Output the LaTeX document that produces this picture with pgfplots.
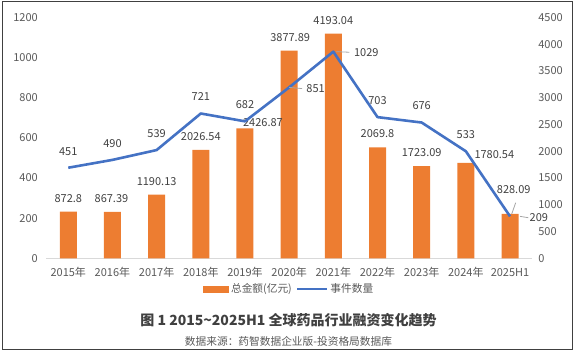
\documentclass[border=0pt]{standalone}
\usepackage{pgfplots}
\pgfplotsset{compat=1.18}
\usepackage{fontspec}
\setmainfont{Noto Sans CJK SC}
\setsansfont{Noto Sans CJK SC}
\definecolor{barc}{HTML}{ED7D31}
\definecolor{linec}{HTML}{4472C4}
\definecolor{tickc}{HTML}{595959}
\definecolor{labc}{HTML}{404040}
\definecolor{leadc}{HTML}{A6A6A6}
\definecolor{basec}{HTML}{D9D9D9}
\begin{document}
\begin{tikzpicture}[x=1pt,y=1pt]
\path[use as bounding box] (0,0) rectangle (577,354);
\draw[color=labc, line width=1.2pt] (2.5,4.5) rectangle (572.7,352.5);
% bars axis (right y axis)
\begin{axis}[
  at={(46.2pt,95.7pt)}, anchor=south west,
  scale only axis, width=485.9pt, height=241pt,
  xmin=-0.5, xmax=10.5, ymin=0, ymax=4500,
  clip=false,
  axis x line*=bottom, axis y line*=right,
  x axis line style={draw=basec, line width=0.8pt, -},
  y axis line style={draw=none},
  major tick length=0pt,
  xtick={0,...,10},
  xticklabels={2015年,2016年,2017年,2018年,2019年,2020年,2021年,2022年,2023年,2024年,2025H1},
  ytick={0,500,...,4500},
  /pgf/number format/assume math mode=true,
  /pgf/number format/.cd, 1000 sep={}, /pgfplots/.cd,
  ticklabel style={font=\fontsize{11}{12}\selectfont, text=tickc, inner sep=0pt},
  xticklabel style={anchor=base, yshift=-17.9pt},
  yticklabel style={anchor=base west, xshift=6pt, yshift=-4pt},
  legend style={at={(0.5,0)}, anchor=center, yshift=-30.7pt, draw=none, fill=none,
    font=\fontsize{10.7}{12}\selectfont, text=tickc, inner sep=0pt,
    /tikz/every even column/.append style={column sep=2pt}},
  legend columns=2,
  legend cell align=left,
]
\addplot[ybar, bar width=17pt, fill=barc, draw=none,
  nodes near coords, point meta=explicit symbolic,
  visualization depends on={value \thisrow{dx}\as\dx},
  visualization depends on={value \thisrow{dy}\as\dy},
  every node near coord/.append style={anchor=center, inner sep=0pt, xshift=\dx pt, yshift=\dy pt,
    font=\fontsize{11}{12}\selectfont, text=labc},
  legend image code/.code={\fill[barc] (0pt,-3.5pt) rectangle (26pt,3.5pt);}
] table[x=x, y=y, meta=lab] {
x y lab dx dy
0 872.8 872.8 0 13
1 867.39 867.39 -1 13
2 1190.13 1190.13 0 13
3 2026.54 2026.54 0 13.5
4 2426.87 2426.87 18 6
5 3877.89 3877.89 1 13.3
6 4193.04 4193.04 0 13
7 2069.8 2069.8 0 14
8 1723.09 1723.09 0 13.3
9 1780.54 1780.54 28.5 8
10 828.09 828.09 3.7 24.7
};
\addlegendentry{总金额(亿元)}
\addlegendimage{linec, line width=2.6pt, legend image code/.code={\draw[linec, line width=2.6pt] (0pt,0pt) -- (30pt,0pt);}}
\addlegendentry{事件数量}
\draw[leadc, line width=0.8pt] ([xshift=1.7pt]axis cs:10,828.09) -- ([xshift=5.7pt, yshift=11.3pt]axis cs:10,828.09);
\end{axis}
% line axis (left y axis)
\begin{axis}[
  at={(46.2pt,95.7pt)}, anchor=south west,
  scale only axis, width=485.9pt, height=241pt,
  xmin=-0.5, xmax=10.5, ymin=0, ymax=1200,
  clip=false,
  axis line style={draw=none},
  major tick length=0pt,
  xtick=\empty,
  ytick={0,200,...,1200},
  /pgf/number format/assume math mode=true,
  /pgf/number format/.cd, 1000 sep={}, /pgfplots/.cd,
  ticklabel style={font=\fontsize{11}{12}\selectfont, text=tickc, inner sep=0pt},
  yticklabel style={anchor=base east, xshift=-8.2pt, yshift=-4pt},
]
\addplot[linec, line width=2.6pt, line join=round, mark=none,
  nodes near coords, point meta=explicit symbolic,
  visualization depends on={value \thisrow{dx}\as\dx},
  visualization depends on={value \thisrow{dy}\as\dy},
  every node near coord/.append style={anchor=center, inner sep=0pt, xshift=\dx pt, yshift=\dy pt,
    font=\fontsize{11}{12}\selectfont, text=labc},
] table[x=x, y=y, meta=lab] {
x y lab dx dy
0 451 451 0 16
1 490 490 0 16.6
2 539 539 0 16.7
3 721 721 0 16.8
4 682 682 0 16.3
5 851 851 26.5 -1.6
6 1029 1029 33 -0.6
7 703 703 0 16.4
8 676 676 0 16.8
9 533 533 0 17
10 209 209 28.8 -1.4
};
\draw[leadc, line width=0.8pt] ([xshift=0pt]axis cs:5,851) -- ([xshift=13pt, yshift=-1.2pt]axis cs:5,851);
\draw[leadc, line width=0.8pt] ([xshift=3pt]axis cs:6,1029) -- ([xshift=16pt, yshift=-0.6pt]axis cs:6,1029);
\draw[leadc, line width=0.8pt] ([xshift=10pt]axis cs:10,209) -- ([xshift=18.3pt, yshift=-1.4pt]axis cs:10,209);
\end{axis}
\node[font=\bfseries\fontsize{14}{16}\selectfont, text=labc] at (288.5,34) {图 1 2015\textasciitilde 2025H1 全球药品行业融资变化趋势};
\node[font=\fontsize{10.7}{12}\selectfont, text=tickc] at (288.5,13) {数据来源：药智数据企业版-投资格局数据库};
\end{tikzpicture}
\end{document}
